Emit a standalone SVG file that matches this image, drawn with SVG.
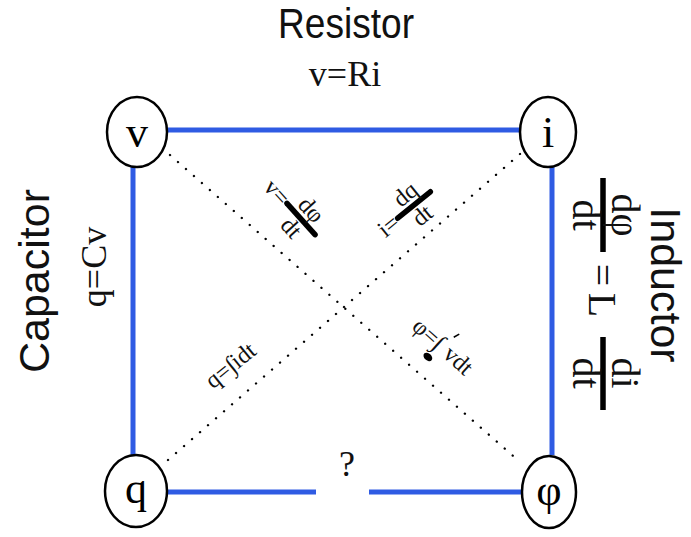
<svg xmlns="http://www.w3.org/2000/svg" width="691" height="537" viewBox="0 0 691 537">
<style>
.edge{stroke:#2f5be3;stroke-width:5;fill:none}
.dot{stroke:#000;stroke-width:2.3;stroke-dasharray:0.1 10.5;stroke-linecap:round;fill:none}
.node{fill:#fff;stroke:#000;stroke-width:2.5}
.nl{font-family:"Liberation Serif",serif;font-size:44px;fill:#000;text-anchor:middle}
.big{font-family:"Liberation Sans",sans-serif;font-size:43px;fill:#111;text-anchor:middle}
.eq{font-family:"Liberation Serif",serif;font-size:36px;fill:#111;text-anchor:middle}
.sm{font-family:"Liberation Serif",serif;font-size:24px;fill:#111;text-anchor:middle}
.fr{font-family:"Liberation Serif",serif;font-size:40px;fill:#111;text-anchor:middle}
.bar{stroke:#000;stroke-width:5.5;stroke-linecap:round}
.rbar{stroke:#000;stroke-width:5.5}
</style>
<rect width="691" height="537" fill="#fff"/>
<g id="connectors">
<line class="edge" x1="166" y1="130" x2="521" y2="130"/>
<line class="edge" x1="133" y1="165" x2="133" y2="455"/>
<line class="edge" x1="552" y1="165" x2="552" y2="455"/>
<line class="edge" x1="167" y1="492" x2="316" y2="492"/>
<line class="edge" x1="369" y1="492" x2="522" y2="492"/>
<line class="dot" x1="170" y1="155" x2="520" y2="462"/>
<line class="dot" x1="168" y1="460" x2="520" y2="154"/>
</g>
<g id="label-resistor">
<text class="big" x="346" y="38" textLength="136" lengthAdjust="spacingAndGlyphs">Resistor</text>
<text class="eq" x="345" y="86" font-size="40">v=Ri</text>
</g>
<g id="label-capacitor">
<text class="big" transform="translate(49,281) rotate(-90)">Capacitor</text>
<text class="eq" transform="translate(106,267) rotate(-90)">q=Cv</text>
</g>
<g id="label-inductor">
<text class="big" transform="translate(651,285) rotate(90)" font-size="42">Inductor</text>
<g transform="translate(603,295) rotate(90)">
<line class="rbar" x1="-117" y1="0" x2="-43" y2="0"/>
<text class="fr" x="-80" y="-9">dφ</text>
<text class="fr" x="-80" y="30">dt</text>
<text class="fr" x="-20" y="14">=</text>
<text class="fr" x="10" y="14" font-size="44">L</text>
<line class="rbar" x1="42" y1="0" x2="115" y2="0"/>
<text class="fr" x="78" y="-9">di</text>
<text class="fr" x="78" y="30">dt</text>
</g>
</g>
<g id="label-v-dphi" transform="translate(301,219) rotate(48)">
<line class="bar" x1="-21" y1="0" x2="21" y2="0"/>
<text class="sm" x="-36" y="8">v=</text>
<text class="sm" x="0" y="-6">dφ</text>
<text class="sm" x="0" y="21">dt</text>
</g>
<g id="label-i-dq" transform="translate(414,205) rotate(-39)">
<line class="bar" x1="-21" y1="0" x2="21" y2="0"/>
<text class="sm" x="-33" y="8">i=</text>
<text class="sm" x="0" y="-6">dq</text>
<text class="sm" x="0" y="21">dt</text>
</g>
<g id="label-q-int" transform="translate(231,366) rotate(-39)">
<text class="sm" x="0" y="7" font-size="26">q=∫idt</text>
</g>
<g id="label-phi-int" transform="translate(440,345) rotate(42)">
<text class="sm" x="-16" y="7">φ=∫</text>
<text class="sm" x="24" y="7">vdt</text>
<ellipse cx="-1" cy="17" rx="5" ry="3.5" fill="#000"/>
<line x1="5" y1="-15" x2="7" y2="-21" stroke="#000" stroke-width="1.6"/>
</g>
<text id="label-unknown" class="eq" x="347" y="476" font-size="30">?</text>
<g id="node-v">
<ellipse class="node" cx="137" cy="132" rx="30" ry="35"/>
<text class="nl" x="137" y="147">v</text>
</g>
<g id="node-i">
<ellipse class="node" cx="548" cy="132" rx="28" ry="35"/>
<text class="nl" x="548" y="147">i</text>
</g>
<g id="node-q">
<ellipse class="node" cx="136" cy="491" rx="31" ry="36"/>
<text class="nl" x="136" y="503">q</text>
</g>
<g id="node-phi">
<ellipse class="node" cx="549" cy="492" rx="27" ry="36"/>
<text class="nl" x="549" y="505">φ</text>
</g>
</svg>
